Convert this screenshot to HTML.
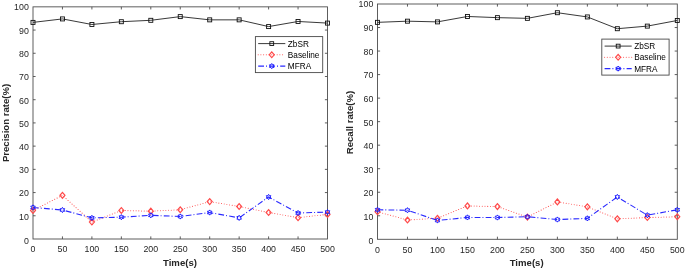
<!DOCTYPE html>
<html><head><meta charset="utf-8"><title>Precision and recall rate</title>
<style>html,body{margin:0;padding:0;background:#fff}svg{display:block;font-family:"Liberation Sans",Arial,sans-serif}</style>
</head><body>
<svg width="685" height="270" viewBox="0 0 685 270">
<rect width="685" height="270" fill="#fff"/>
<rect x="33.00" y="6.85" width="294.50" height="232.15" fill="#fff" stroke="#4d4d4d" stroke-width="0.9"/>
<path d="M62.45 239.00v-2.6M62.45 6.85v2.6M33.00 215.78h2.6M327.50 215.78h-2.6M91.90 239.00v-2.6M91.90 6.85v2.6M33.00 192.57h2.6M327.50 192.57h-2.6M121.35 239.00v-2.6M121.35 6.85v2.6M33.00 169.36h2.6M327.50 169.36h-2.6M150.80 239.00v-2.6M150.80 6.85v2.6M33.00 146.14h2.6M327.50 146.14h-2.6M180.25 239.00v-2.6M180.25 6.85v2.6M33.00 122.92h2.6M327.50 122.92h-2.6M209.70 239.00v-2.6M209.70 6.85v2.6M33.00 99.71h2.6M327.50 99.71h-2.6M239.15 239.00v-2.6M239.15 6.85v2.6M33.00 76.50h2.6M327.50 76.50h-2.6M268.60 239.00v-2.6M268.60 6.85v2.6M33.00 53.28h2.6M327.50 53.28h-2.6M298.05 239.00v-2.6M298.05 6.85v2.6M33.00 30.06h2.6M327.50 30.06h-2.6" stroke="#4d4d4d" stroke-width="0.9" fill="none"/>
<text x="33.00" y="252.30" text-anchor="middle" font-size="8.8" fill="#262626">0</text>
<text x="28.80" y="243.80" text-anchor="end" font-size="8.8" fill="#262626">0</text>
<text x="62.45" y="252.30" text-anchor="middle" font-size="8.8" fill="#262626">50</text>
<text x="28.80" y="219.69" text-anchor="end" font-size="8.8" fill="#262626">10</text>
<text x="91.90" y="252.30" text-anchor="middle" font-size="8.8" fill="#262626">100</text>
<text x="28.80" y="196.47" text-anchor="end" font-size="8.8" fill="#262626">20</text>
<text x="121.35" y="252.30" text-anchor="middle" font-size="8.8" fill="#262626">150</text>
<text x="28.80" y="173.26" text-anchor="end" font-size="8.8" fill="#262626">30</text>
<text x="150.80" y="252.30" text-anchor="middle" font-size="8.8" fill="#262626">200</text>
<text x="28.80" y="150.04" text-anchor="end" font-size="8.8" fill="#262626">40</text>
<text x="180.25" y="252.30" text-anchor="middle" font-size="8.8" fill="#262626">250</text>
<text x="28.80" y="126.83" text-anchor="end" font-size="8.8" fill="#262626">50</text>
<text x="209.70" y="252.30" text-anchor="middle" font-size="8.8" fill="#262626">300</text>
<text x="28.80" y="103.61" text-anchor="end" font-size="8.8" fill="#262626">60</text>
<text x="239.15" y="252.30" text-anchor="middle" font-size="8.8" fill="#262626">350</text>
<text x="28.80" y="80.40" text-anchor="end" font-size="8.8" fill="#262626">70</text>
<text x="268.60" y="252.30" text-anchor="middle" font-size="8.8" fill="#262626">400</text>
<text x="28.80" y="57.18" text-anchor="end" font-size="8.8" fill="#262626">80</text>
<text x="298.05" y="252.30" text-anchor="middle" font-size="8.8" fill="#262626">450</text>
<text x="28.80" y="33.96" text-anchor="end" font-size="8.8" fill="#262626">90</text>
<text x="327.50" y="252.30" text-anchor="middle" font-size="8.8" fill="#262626">500</text>
<text x="28.80" y="10.25" text-anchor="end" font-size="8.8" fill="#262626">100</text>
<text x="180.00" y="265.70" text-anchor="middle" font-size="9.6" font-weight="bold" fill="#262626">Time(s)</text>
<text transform="translate(8.50 122.92) rotate(-90)" text-anchor="middle" font-size="9.6" font-weight="bold" fill="#262626">Precision rate(%)</text>
<polyline points="33.00,210.45 62.45,195.36 91.90,222.05 121.35,210.45 150.80,211.14 180.25,209.75 209.70,201.62 239.15,206.50 268.60,212.53 298.05,217.64 327.50,214.39" fill="none" stroke="#ff4848" stroke-width="1.05" stroke-linecap="round" stroke-dasharray="0.01 2.7"/>
<path d="M33.00 207.55l2.5 2.9l-2.5 2.9l-2.5 -2.9z" fill="none" stroke="#ff4a4a" stroke-width="1.2"/>
<path d="M62.45 192.46l2.5 2.9l-2.5 2.9l-2.5 -2.9z" fill="none" stroke="#ff4a4a" stroke-width="1.2"/>
<path d="M91.90 219.15l2.5 2.9l-2.5 2.9l-2.5 -2.9z" fill="none" stroke="#ff4a4a" stroke-width="1.2"/>
<path d="M121.35 207.55l2.5 2.9l-2.5 2.9l-2.5 -2.9z" fill="none" stroke="#ff4a4a" stroke-width="1.2"/>
<path d="M150.80 208.24l2.5 2.9l-2.5 2.9l-2.5 -2.9z" fill="none" stroke="#ff4a4a" stroke-width="1.2"/>
<path d="M180.25 206.85l2.5 2.9l-2.5 2.9l-2.5 -2.9z" fill="none" stroke="#ff4a4a" stroke-width="1.2"/>
<path d="M209.70 198.72l2.5 2.9l-2.5 2.9l-2.5 -2.9z" fill="none" stroke="#ff4a4a" stroke-width="1.2"/>
<path d="M239.15 203.60l2.5 2.9l-2.5 2.9l-2.5 -2.9z" fill="none" stroke="#ff4a4a" stroke-width="1.2"/>
<path d="M268.60 209.63l2.5 2.9l-2.5 2.9l-2.5 -2.9z" fill="none" stroke="#ff4a4a" stroke-width="1.2"/>
<path d="M298.05 214.74l2.5 2.9l-2.5 2.9l-2.5 -2.9z" fill="none" stroke="#ff4a4a" stroke-width="1.2"/>
<path d="M327.50 211.49l2.5 2.9l-2.5 2.9l-2.5 -2.9z" fill="none" stroke="#ff4a4a" stroke-width="1.2"/>
<polyline points="33.00,207.43 62.45,209.98 91.90,217.87 121.35,217.18 150.80,215.32 180.25,216.48 209.70,212.53 239.15,217.87 268.60,196.98 298.05,213.00 327.50,212.07" fill="none" stroke="#2a2aff" stroke-width="1.1" stroke-dasharray="5.8 2 1 2.2"/>
<path d="M33.00 204.83L33.75 206.13L35.25 206.13L34.50 207.43L35.25 208.73L33.75 208.73L33.00 210.03L32.25 208.73L30.75 208.73L31.50 207.43L30.75 206.13L32.25 206.13z" fill="none" stroke="#1c1cff" stroke-width="1" stroke-linejoin="miter"/>
<path d="M62.45 207.38L63.20 208.68L64.70 208.68L63.95 209.98L64.70 211.28L63.20 211.28L62.45 212.58L61.70 211.28L60.20 211.28L60.95 209.98L60.20 208.68L61.70 208.68z" fill="none" stroke="#1c1cff" stroke-width="1" stroke-linejoin="miter"/>
<path d="M91.90 215.27L92.65 216.57L94.15 216.57L93.40 217.87L94.15 219.17L92.65 219.17L91.90 220.47L91.15 219.17L89.65 219.17L90.40 217.87L89.65 216.57L91.15 216.57z" fill="none" stroke="#1c1cff" stroke-width="1" stroke-linejoin="miter"/>
<path d="M121.35 214.58L122.10 215.88L123.60 215.88L122.85 217.18L123.60 218.48L122.10 218.48L121.35 219.78L120.60 218.48L119.10 218.48L119.85 217.18L119.10 215.88L120.60 215.88z" fill="none" stroke="#1c1cff" stroke-width="1" stroke-linejoin="miter"/>
<path d="M150.80 212.72L151.55 214.02L153.05 214.02L152.30 215.32L153.05 216.62L151.55 216.62L150.80 217.92L150.05 216.62L148.55 216.62L149.30 215.32L148.55 214.02L150.05 214.02z" fill="none" stroke="#1c1cff" stroke-width="1" stroke-linejoin="miter"/>
<path d="M180.25 213.88L181.00 215.18L182.50 215.18L181.75 216.48L182.50 217.78L181.00 217.78L180.25 219.08L179.50 217.78L178.00 217.78L178.75 216.48L178.00 215.18L179.50 215.18z" fill="none" stroke="#1c1cff" stroke-width="1" stroke-linejoin="miter"/>
<path d="M209.70 209.93L210.45 211.23L211.95 211.23L211.20 212.53L211.95 213.83L210.45 213.83L209.70 215.13L208.95 213.83L207.45 213.83L208.20 212.53L207.45 211.23L208.95 211.23z" fill="none" stroke="#1c1cff" stroke-width="1" stroke-linejoin="miter"/>
<path d="M239.15 215.27L239.90 216.57L241.40 216.57L240.65 217.87L241.40 219.17L239.90 219.17L239.15 220.47L238.40 219.17L236.90 219.17L237.65 217.87L236.90 216.57L238.40 216.57z" fill="none" stroke="#1c1cff" stroke-width="1" stroke-linejoin="miter"/>
<path d="M268.60 194.38L269.35 195.68L270.85 195.68L270.10 196.98L270.85 198.28L269.35 198.28L268.60 199.58L267.85 198.28L266.35 198.28L267.10 196.98L266.35 195.68L267.85 195.68z" fill="none" stroke="#1c1cff" stroke-width="1" stroke-linejoin="miter"/>
<path d="M298.05 210.40L298.80 211.70L300.30 211.70L299.55 213.00L300.30 214.30L298.80 214.30L298.05 215.60L297.30 214.30L295.80 214.30L296.55 213.00L295.80 211.70L297.30 211.70z" fill="none" stroke="#1c1cff" stroke-width="1" stroke-linejoin="miter"/>
<path d="M327.50 209.47L328.25 210.77L329.75 210.77L329.00 212.07L329.75 213.37L328.25 213.37L327.50 214.67L326.75 213.37L325.25 213.37L326.00 212.07L325.25 210.77L326.75 210.77z" fill="none" stroke="#1c1cff" stroke-width="1" stroke-linejoin="miter"/>
<polyline points="33.00,22.40 62.45,18.92 91.90,24.49 121.35,21.71 150.80,20.31 180.25,16.60 209.70,19.85 239.15,19.85 268.60,26.58 298.05,21.48 327.50,23.10" fill="none" stroke="#222" stroke-width="0.9"/>
<rect x="31.00" y="20.40" width="4" height="4" fill="none" stroke="#111" stroke-width="0.9"/>
<rect x="60.45" y="16.92" width="4" height="4" fill="none" stroke="#111" stroke-width="0.9"/>
<rect x="89.90" y="22.49" width="4" height="4" fill="none" stroke="#111" stroke-width="0.9"/>
<rect x="119.35" y="19.71" width="4" height="4" fill="none" stroke="#111" stroke-width="0.9"/>
<rect x="148.80" y="18.31" width="4" height="4" fill="none" stroke="#111" stroke-width="0.9"/>
<rect x="178.25" y="14.60" width="4" height="4" fill="none" stroke="#111" stroke-width="0.9"/>
<rect x="207.70" y="17.85" width="4" height="4" fill="none" stroke="#111" stroke-width="0.9"/>
<rect x="237.15" y="17.85" width="4" height="4" fill="none" stroke="#111" stroke-width="0.9"/>
<rect x="266.60" y="24.58" width="4" height="4" fill="none" stroke="#111" stroke-width="0.9"/>
<rect x="296.05" y="19.48" width="4" height="4" fill="none" stroke="#111" stroke-width="0.9"/>
<rect x="325.50" y="21.10" width="4" height="4" fill="none" stroke="#111" stroke-width="0.9"/>
<rect x="255.4" y="36.6" width="67.3" height="36.0" fill="#fff" stroke="#484848" stroke-width="0.9"/>
<path d="M258.2 43.6H285.3" stroke="#222" stroke-width="0.9"/>
<rect x="269.85" y="41.70" width="3.8" height="3.8" fill="none" stroke="#111" stroke-width="0.9"/>
<text x="287.80" y="46.55" font-size="8.25" fill="#000">ZbSR</text>
<path d="M258.2 54.8H285.3" stroke="#ff4848" stroke-width="1.05" stroke-linecap="round" stroke-dasharray="0.01 2.7"/>
<path d="M271.75 51.90l2.5 2.9l-2.5 2.9l-2.5 -2.9z" fill="none" stroke="#ff4a4a" stroke-width="1.2"/>
<text x="287.80" y="57.75" font-size="8.25" fill="#000">Baseline</text>
<path d="M258.2 66.1H285.3" stroke="#2a2aff" stroke-width="1.1" stroke-dasharray="5.8 2 1 2.2"/>
<path d="M271.75 63.50L272.50 64.80L274.00 64.80L273.25 66.10L274.00 67.40L272.50 67.40L271.75 68.70L271.00 67.40L269.50 67.40L270.25 66.10L269.50 64.80L271.00 64.80z" fill="none" stroke="#1c1cff" stroke-width="1" stroke-linejoin="miter"/>
<text x="287.80" y="69.05" font-size="8.25" fill="#000">MFRA</text>
<rect x="377.50" y="4.00" width="299.80" height="235.30" fill="#fff" stroke="#4d4d4d" stroke-width="0.9"/>
<path d="M407.48 239.30v-2.6M407.48 4.00v2.6M377.50 215.77h2.6M677.30 215.77h-2.6M437.46 239.30v-2.6M437.46 4.00v2.6M377.50 192.24h2.6M677.30 192.24h-2.6M467.44 239.30v-2.6M467.44 4.00v2.6M377.50 168.71h2.6M677.30 168.71h-2.6M497.42 239.30v-2.6M497.42 4.00v2.6M377.50 145.18h2.6M677.30 145.18h-2.6M527.40 239.30v-2.6M527.40 4.00v2.6M377.50 121.65h2.6M677.30 121.65h-2.6M557.38 239.30v-2.6M557.38 4.00v2.6M377.50 98.12h2.6M677.30 98.12h-2.6M587.36 239.30v-2.6M587.36 4.00v2.6M377.50 74.59h2.6M677.30 74.59h-2.6M617.34 239.30v-2.6M617.34 4.00v2.6M377.50 51.06h2.6M677.30 51.06h-2.6M647.32 239.30v-2.6M647.32 4.00v2.6M377.50 27.53h2.6M677.30 27.53h-2.6" stroke="#4d4d4d" stroke-width="0.9" fill="none"/>
<text x="377.50" y="252.60" text-anchor="middle" font-size="8.8" fill="#262626">0</text>
<text x="373.30" y="244.10" text-anchor="end" font-size="8.8" fill="#262626">0</text>
<text x="407.48" y="252.60" text-anchor="middle" font-size="8.8" fill="#262626">50</text>
<text x="373.30" y="219.67" text-anchor="end" font-size="8.8" fill="#262626">10</text>
<text x="437.46" y="252.60" text-anchor="middle" font-size="8.8" fill="#262626">100</text>
<text x="373.30" y="196.14" text-anchor="end" font-size="8.8" fill="#262626">20</text>
<text x="467.44" y="252.60" text-anchor="middle" font-size="8.8" fill="#262626">150</text>
<text x="373.30" y="172.61" text-anchor="end" font-size="8.8" fill="#262626">30</text>
<text x="497.42" y="252.60" text-anchor="middle" font-size="8.8" fill="#262626">200</text>
<text x="373.30" y="149.08" text-anchor="end" font-size="8.8" fill="#262626">40</text>
<text x="527.40" y="252.60" text-anchor="middle" font-size="8.8" fill="#262626">250</text>
<text x="373.30" y="125.55" text-anchor="end" font-size="8.8" fill="#262626">50</text>
<text x="557.38" y="252.60" text-anchor="middle" font-size="8.8" fill="#262626">300</text>
<text x="373.30" y="102.02" text-anchor="end" font-size="8.8" fill="#262626">60</text>
<text x="587.36" y="252.60" text-anchor="middle" font-size="8.8" fill="#262626">350</text>
<text x="373.30" y="78.49" text-anchor="end" font-size="8.8" fill="#262626">70</text>
<text x="617.34" y="252.60" text-anchor="middle" font-size="8.8" fill="#262626">400</text>
<text x="373.30" y="54.96" text-anchor="end" font-size="8.8" fill="#262626">80</text>
<text x="647.32" y="252.60" text-anchor="middle" font-size="8.8" fill="#262626">450</text>
<text x="373.30" y="31.43" text-anchor="end" font-size="8.8" fill="#262626">90</text>
<text x="677.30" y="252.60" text-anchor="middle" font-size="8.8" fill="#262626">500</text>
<text x="373.30" y="7.40" text-anchor="end" font-size="8.8" fill="#262626">100</text>
<text x="526.65" y="266.40" text-anchor="middle" font-size="9.6" font-weight="bold" fill="#262626">Time(s)</text>
<text transform="translate(353.00 122.55) rotate(-90)" text-anchor="middle" font-size="9.6" font-weight="bold" fill="#262626">Recall rate(%)</text>
<polyline points="377.50,211.77 407.48,220.01 437.46,218.24 467.44,205.89 497.42,206.59 527.40,217.06 557.38,201.89 587.36,206.83 617.34,218.83 647.32,217.53 677.30,216.71" fill="none" stroke="#ff4848" stroke-width="1.05" stroke-linecap="round" stroke-dasharray="0.01 2.7"/>
<path d="M377.50 208.87l2.5 2.9l-2.5 2.9l-2.5 -2.9z" fill="none" stroke="#ff4a4a" stroke-width="1.2"/>
<path d="M407.48 217.11l2.5 2.9l-2.5 2.9l-2.5 -2.9z" fill="none" stroke="#ff4a4a" stroke-width="1.2"/>
<path d="M437.46 215.34l2.5 2.9l-2.5 2.9l-2.5 -2.9z" fill="none" stroke="#ff4a4a" stroke-width="1.2"/>
<path d="M467.44 202.99l2.5 2.9l-2.5 2.9l-2.5 -2.9z" fill="none" stroke="#ff4a4a" stroke-width="1.2"/>
<path d="M497.42 203.69l2.5 2.9l-2.5 2.9l-2.5 -2.9z" fill="none" stroke="#ff4a4a" stroke-width="1.2"/>
<path d="M527.40 214.16l2.5 2.9l-2.5 2.9l-2.5 -2.9z" fill="none" stroke="#ff4a4a" stroke-width="1.2"/>
<path d="M557.38 198.99l2.5 2.9l-2.5 2.9l-2.5 -2.9z" fill="none" stroke="#ff4a4a" stroke-width="1.2"/>
<path d="M587.36 203.93l2.5 2.9l-2.5 2.9l-2.5 -2.9z" fill="none" stroke="#ff4a4a" stroke-width="1.2"/>
<path d="M617.34 215.93l2.5 2.9l-2.5 2.9l-2.5 -2.9z" fill="none" stroke="#ff4a4a" stroke-width="1.2"/>
<path d="M647.32 214.63l2.5 2.9l-2.5 2.9l-2.5 -2.9z" fill="none" stroke="#ff4a4a" stroke-width="1.2"/>
<path d="M677.30 213.81l2.5 2.9l-2.5 2.9l-2.5 -2.9z" fill="none" stroke="#ff4a4a" stroke-width="1.2"/>
<polyline points="377.50,209.77 407.48,210.24 437.46,220.48 467.44,217.42 497.42,217.53 527.40,216.71 557.38,219.53 587.36,218.36 617.34,196.95 647.32,215.18 677.30,209.77" fill="none" stroke="#2a2aff" stroke-width="1.1" stroke-dasharray="5.8 2 1 2.2"/>
<path d="M377.50 207.17L378.25 208.47L379.75 208.47L379.00 209.77L379.75 211.07L378.25 211.07L377.50 212.37L376.75 211.07L375.25 211.07L376.00 209.77L375.25 208.47L376.75 208.47z" fill="none" stroke="#1c1cff" stroke-width="1" stroke-linejoin="miter"/>
<path d="M407.48 207.64L408.23 208.94L409.73 208.94L408.98 210.24L409.73 211.54L408.23 211.54L407.48 212.84L406.73 211.54L405.23 211.54L405.98 210.24L405.23 208.94L406.73 208.94z" fill="none" stroke="#1c1cff" stroke-width="1" stroke-linejoin="miter"/>
<path d="M437.46 217.88L438.21 219.18L439.71 219.18L438.96 220.48L439.71 221.78L438.21 221.78L437.46 223.08L436.71 221.78L435.21 221.78L435.96 220.48L435.21 219.18L436.71 219.18z" fill="none" stroke="#1c1cff" stroke-width="1" stroke-linejoin="miter"/>
<path d="M467.44 214.82L468.19 216.12L469.69 216.12L468.94 217.42L469.69 218.72L468.19 218.72L467.44 220.02L466.69 218.72L465.19 218.72L465.94 217.42L465.19 216.12L466.69 216.12z" fill="none" stroke="#1c1cff" stroke-width="1" stroke-linejoin="miter"/>
<path d="M497.42 214.93L498.17 216.23L499.67 216.23L498.92 217.53L499.67 218.83L498.17 218.83L497.42 220.13L496.67 218.83L495.17 218.83L495.92 217.53L495.17 216.23L496.67 216.23z" fill="none" stroke="#1c1cff" stroke-width="1" stroke-linejoin="miter"/>
<path d="M527.40 214.11L528.15 215.41L529.65 215.41L528.90 216.71L529.65 218.01L528.15 218.01L527.40 219.31L526.65 218.01L525.15 218.01L525.90 216.71L525.15 215.41L526.65 215.41z" fill="none" stroke="#1c1cff" stroke-width="1" stroke-linejoin="miter"/>
<path d="M557.38 216.93L558.13 218.23L559.63 218.23L558.88 219.53L559.63 220.83L558.13 220.83L557.38 222.13L556.63 220.83L555.13 220.83L555.88 219.53L555.13 218.23L556.63 218.23z" fill="none" stroke="#1c1cff" stroke-width="1" stroke-linejoin="miter"/>
<path d="M587.36 215.76L588.11 217.06L589.61 217.06L588.86 218.36L589.61 219.66L588.11 219.66L587.36 220.96L586.61 219.66L585.11 219.66L585.86 218.36L585.11 217.06L586.61 217.06z" fill="none" stroke="#1c1cff" stroke-width="1" stroke-linejoin="miter"/>
<path d="M617.34 194.35L618.09 195.65L619.59 195.65L618.84 196.95L619.59 198.25L618.09 198.25L617.34 199.55L616.59 198.25L615.09 198.25L615.84 196.95L615.09 195.65L616.59 195.65z" fill="none" stroke="#1c1cff" stroke-width="1" stroke-linejoin="miter"/>
<path d="M647.32 212.58L648.07 213.88L649.57 213.88L648.82 215.18L649.57 216.48L648.07 216.48L647.32 217.78L646.57 216.48L645.07 216.48L645.82 215.18L645.07 213.88L646.57 213.88z" fill="none" stroke="#1c1cff" stroke-width="1" stroke-linejoin="miter"/>
<path d="M677.30 207.17L678.05 208.47L679.55 208.47L678.80 209.77L679.55 211.07L678.05 211.07L677.30 212.37L676.55 211.07L675.05 211.07L675.80 209.77L675.05 208.47L676.55 208.47z" fill="none" stroke="#1c1cff" stroke-width="1" stroke-linejoin="miter"/>
<polyline points="377.50,22.35 407.48,21.18 437.46,21.88 467.44,16.47 497.42,17.65 527.40,18.35 557.38,12.71 587.36,16.94 617.34,28.71 647.32,26.12 677.30,20.47" fill="none" stroke="#222" stroke-width="0.9"/>
<rect x="375.50" y="20.35" width="4" height="4" fill="none" stroke="#111" stroke-width="0.9"/>
<rect x="405.48" y="19.18" width="4" height="4" fill="none" stroke="#111" stroke-width="0.9"/>
<rect x="435.46" y="19.88" width="4" height="4" fill="none" stroke="#111" stroke-width="0.9"/>
<rect x="465.44" y="14.47" width="4" height="4" fill="none" stroke="#111" stroke-width="0.9"/>
<rect x="495.42" y="15.65" width="4" height="4" fill="none" stroke="#111" stroke-width="0.9"/>
<rect x="525.40" y="16.35" width="4" height="4" fill="none" stroke="#111" stroke-width="0.9"/>
<rect x="555.38" y="10.71" width="4" height="4" fill="none" stroke="#111" stroke-width="0.9"/>
<rect x="585.36" y="14.94" width="4" height="4" fill="none" stroke="#111" stroke-width="0.9"/>
<rect x="615.34" y="26.71" width="4" height="4" fill="none" stroke="#111" stroke-width="0.9"/>
<rect x="645.32" y="24.12" width="4" height="4" fill="none" stroke="#111" stroke-width="0.9"/>
<rect x="675.30" y="18.47" width="4" height="4" fill="none" stroke="#111" stroke-width="0.9"/>
<rect x="601.8" y="39.1" width="67.3" height="36.0" fill="#fff" stroke="#484848" stroke-width="0.9"/>
<path d="M604.5999999999999 46.1H631.6999999999999" stroke="#222" stroke-width="0.9"/>
<rect x="616.25" y="44.20" width="3.8" height="3.8" fill="none" stroke="#111" stroke-width="0.9"/>
<text x="634.20" y="49.05" font-size="8.25" fill="#000">ZbSR</text>
<path d="M604.5999999999999 57.3H631.6999999999999" stroke="#ff4848" stroke-width="1.05" stroke-linecap="round" stroke-dasharray="0.01 2.7"/>
<path d="M618.15 54.40l2.5 2.9l-2.5 2.9l-2.5 -2.9z" fill="none" stroke="#ff4a4a" stroke-width="1.2"/>
<text x="634.20" y="60.25" font-size="8.25" fill="#000">Baseline</text>
<path d="M604.5999999999999 68.6H631.6999999999999" stroke="#2a2aff" stroke-width="1.1" stroke-dasharray="5.8 2 1 2.2"/>
<path d="M618.15 66.00L618.90 67.30L620.40 67.30L619.65 68.60L620.40 69.90L618.90 69.90L618.15 71.20L617.40 69.90L615.90 69.90L616.65 68.60L615.90 67.30L617.40 67.30z" fill="none" stroke="#1c1cff" stroke-width="1" stroke-linejoin="miter"/>
<text x="634.20" y="71.55" font-size="8.25" fill="#000">MFRA</text>
</svg>
</body></html>
